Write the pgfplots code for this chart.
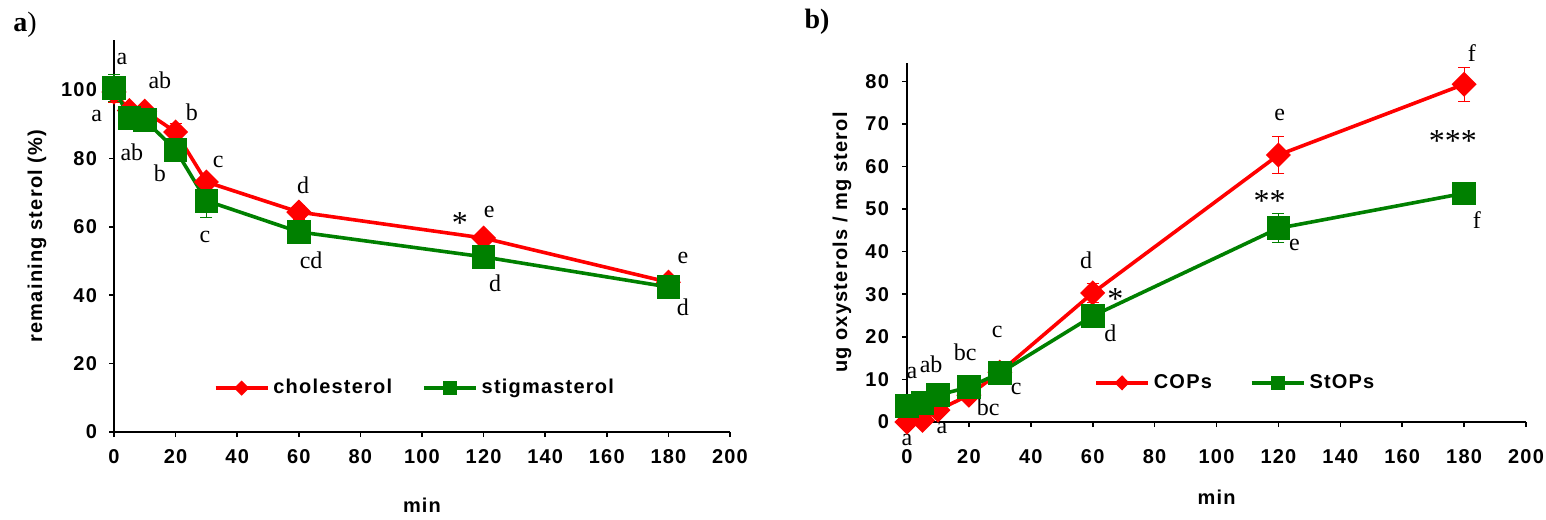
\documentclass[border=0pt]{standalone}
\usepackage{fontspec}
\setmainfont{Liberation Serif}
\newfontfamily\axfont[LetterSpace=6]{Liberation Sans}
\usepackage{pgfplots}
\usepackage{pgfplotstable}
\pgfplotsset{compat=1.18}

% time (min), value, error
\pgfplotstableread{
t y e
0 99.4 3
5 94.0 1.5
10 93.8 1.5
20 87.7 2.5
30 73.1 2
60 64.3 2
120 56.7 1
180 43.8 1
}\cholesterol
\pgfplotstableread{
t y e
0 100.6 4
5 91.8 2
10 91.2 3
20 82.5 3
30 67.6 5
60 58.5 1.5
120 51.2 1.5
180 42.4 1
}\stigmasterol
\pgfplotstableread{
t y e
0 0.0 0.5
5 0.4 0.5
10 2.8 0.5
20 6.3 0.8
30 11.7 1.5
60 30.3 2.3
120 62.7 4.4
180 79.3 4
}\cops
\pgfplotstableread{
t y e
0 3.8 0.5
5 4.4 0.5
10 6.3 0.8
20 8.2 0.8
30 11.5 1
60 24.9 1
120 45.5 3.4
180 53.7 0.8
}\stops

\definecolor{cred}{RGB}{255,0,0}
\definecolor{cgreen}{RGB}{0,128,0}

\tikzset{star/.style={font=\fontsize{16}{18}\selectfont}}

\pgfplotsset{
  panel/.style={
    scale only axis, axis lines=left, axis line style={line width=0.8pt,-},
    tick align=outside, major tick length=2.5pt, tick style={line width=0.8pt,black},
    xmin=0, xmax=200, xtick={0,20,...,200}, ymin=0, clip=false,
    /pgf/number format/assume math mode=true,
    ticklabel style={font=\axfont\bfseries\fontsize{10}{12}\selectfont},
    label style={font=\axfont\bfseries\fontsize{10}{12}\selectfont},
    legend style={draw=none, fill=none, anchor=center, legend columns=2,
      font=\axfont\bfseries\fontsize{10}{12}\selectfont,
      /tikz/every even column/.append style={column sep=13pt}},
    legend cell align=left,
    legend image code/.code={\draw[##1, mark size=2.5pt, mark repeat=2, mark phase=2]
      plot coordinates {(0pt,0pt) (13pt,0pt) (26pt,0pt)};},
  },
  redser/.style={cred, line width=1.8pt, mark=diamond*, mark size=5pt,
    mark options={solid, xscale=1.33},
    error bars/.cd, y dir=both, y explicit,
    error bar style={line width=0.6pt, cred},
    error mark options={rotate=90, mark size=3pt, line width=0.6pt, cred}},
  greenser/.style={cgreen, line width=1.8pt, mark=square*, mark size=5pt,
    mark options={solid},
    error bars/.cd, y dir=both, y explicit,
    error bar style={line width=0.6pt, cgreen},
    error mark options={rotate=90, mark size=3pt, line width=0.6pt, cgreen}},
}

\begin{document}
\begin{tikzpicture}
\path[use as bounding box] (0,0) rectangle (773pt,-259.5pt);

\node[font=\fontsize{14}{16}\selectfont] at (12.5pt,-12.5pt) {\textbf{a})};
\node[font=\bfseries\fontsize{14}{16}\selectfont] at (408.5pt,-11pt) {b)};

\begin{axis}[panel,
  at={(57pt,-216pt)}, anchor=south west,
  width=308pt, height=196pt, ymax=114.6,
  ytick={0,20,...,100},
  xticklabel style={anchor=center, yshift=-10pt},
  yticklabel style={xshift=-2.5pt},
  xlabel={min}, ylabel={remaining sterol (\%)},
  xlabel style={at={(axis description cs:0.5,-0.186)}, anchor=center},
  ylabel style={at={(axis description cs:-0.125,0.5)}, anchor=center},
  legend style={at={(axis description cs:0.49,0.112)}},
]
\addplot+[redser] table[x=t, y=y, y error=e] {\cholesterol};
\addlegendentry{cholesterol}
\addplot+[greenser] table[x=t, y=y, y error=e] {\stigmasterol};
\addlegendentry{stigmasterol}

\begin{scope}[every node/.style={font=\fontsize{12}{14}\selectfont, inner sep=0pt}]
\node at (axis cs:2.6,109.1) {a};
\node at (axis cs:-5.6,92.3) {a};
\node at (axis cs:14.9,102.9) {ab};
\node at (axis cs:5.8,81.9) {ab};
\node at (axis cs:25.3,93.6) {b};
\node at (axis cs:14.9,75.7) {b};
\node at (axis cs:33.8,78.9) {c};
\node at (axis cs:29.5,57.0) {c};
\node at (axis cs:61.4,72.2) {d};
\node at (axis cs:64,50.3) {cd};
\node[star] at (axis cs:112.3,61.0) {*};
\node at (axis cs:121.8,64.3) {e};
\node at (axis cs:123.7,43.6) {d};
\node at (axis cs:184.7,50.9) {e};
\node at (axis cs:184.7,36.5) {d};
\end{scope}
\end{axis}

\begin{axis}[panel,
  at={(453.5pt,-211pt)}, anchor=south west,
  width=309.5pt, height=179.5pt, ymax=84.3,
  ytick={0,10,...,80},
  xticklabel style={anchor=center, yshift=-15pt},
  yticklabel style={xshift=-3pt},
  xlabel={min}, ylabel={ug oxysterols / mg sterol},
  xlabel style={at={(axis description cs:0.5,-0.209)}, anchor=center},
  ylabel style={at={(axis description cs:-0.105,0.5)}, anchor=center},
  legend style={at={(axis description cs:0.532,0.109)},
    /tikz/every even column/.append style={column sep=17pt}},
]
\addplot+[redser] table[x=t, y=y, y error=e] {\cops};
\addlegendentry{COPs}
\addplot+[greenser] table[x=t, y=y, y error=e] {\stops};
\addlegendentry{StOPs}

\begin{scope}[every node/.style={font=\fontsize{12}{14}\selectfont, inner sep=0pt}]
\node at (axis cs:1.6,11.5) {a};
\node at (axis cs:7.8,13.6) {ab};
\node at (axis cs:18.8,16.4) {bc};
\node at (axis cs:29.1,21.1) {c};
\node at (axis cs:35.3,7.7) {c};
\node at (axis cs:26.2,3.5) {bc};
\node at (axis cs:11.3,-1.4) {a};
\node at (axis cs:0,-4.2) {a};
\node at (axis cs:57.9,38.0) {d};
\node[star] at (axis cs:67.3,28.8) {*};
\node at (axis cs:65.7,20.9) {d};
\node at (axis cs:120.4,72.1) {e};
\node[star] at (axis cs:117.2,52.0) {**};
\node at (axis cs:125.2,41.5) {e};
\node at (axis cs:182.5,86.6) {f};
\node[star] at (axis cs:176.4,65.9) {***};
\node at (axis cs:184.1,47.4) {f};
\end{scope}
\end{axis}
\end{tikzpicture}
\end{document}
